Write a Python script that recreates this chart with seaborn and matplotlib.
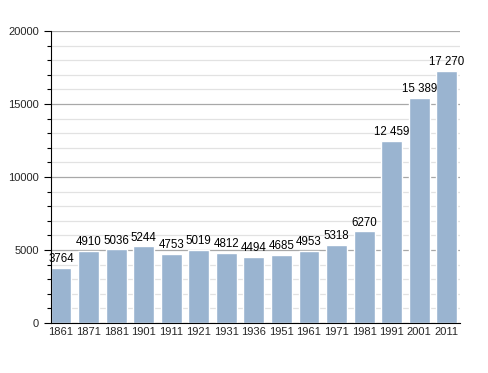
import numpy as np
import pandas as pd
import matplotlib
matplotlib.use("Agg")
import matplotlib.pyplot as plt
import seaborn as sns
from matplotlib.ticker import MultipleLocator

# Population by census year
years = ["1861", "1871", "1881", "1901", "1911", "1921", "1931", "1936",
         "1951", "1961", "1971", "1981", "1991", "2001", "2011"]
population = [3764, 4910, 5036, 5244, 4753, 5019, 4812, 4494,
              4685, 4953, 5318, 6270, 12459, 15389, 17270]
labels = ["3764", "4910", "5036", "5244", "4753", "5019", "4812", "4494",
          "4685", "4953", "5318", "6270", "12 459", "15 389", "17 270"]

df = pd.DataFrame({"year": years, "pop": population})

sns.set_style("white")
plt.rcParams["font.family"] = ["Liberation Sans", "DejaVu Sans"]

fig = plt.figure(figsize=(4.88, 3.73), dpi=100)
ax = fig.add_axes([50.5 / 488, 50 / 373, 409 / 488, 292 / 373])

ax.set_ylim(0, 20000)
ax.yaxis.set_major_locator(MultipleLocator(5000))
ax.yaxis.set_minor_locator(MultipleLocator(1000))
ax.grid(axis="y", which="major", color="#a8a8a8", linewidth=0.9, zorder=0)
ax.grid(axis="y", which="minor", color="#e2e2e2", linewidth=0.9, zorder=0)
ax.set_axisbelow(True)

sns.barplot(data=df, x="year", y="pop", color="#9ab4d0", saturation=1,
            width=0.76, ax=ax, zorder=2)

# value labels above bars
for i, (v, lab) in enumerate(zip(population, labels)):
    ax.text(i, v + 200, lab, ha="center", va="bottom", fontsize=8.3, color="black")

ax.set_xlim(-0.38, len(years) - 0.54)
ax.set_xlabel("")
ax.set_ylabel("")
for s in ["top", "right"]:
    ax.spines[s].set_visible(False)
ax.spines["left"].set_color("black")
ax.spines["bottom"].set_color("black")
ax.tick_params(axis="y", which="major", length=5, width=0.8, labelsize=8, left=True, color="black")
ax.tick_params(axis="y", which="minor", length=3, width=0.8, left=True, color="black")
ax.tick_params(axis="x", length=0, labelsize=8, pad=3)

fig.savefig("out.png", dpi=100)
